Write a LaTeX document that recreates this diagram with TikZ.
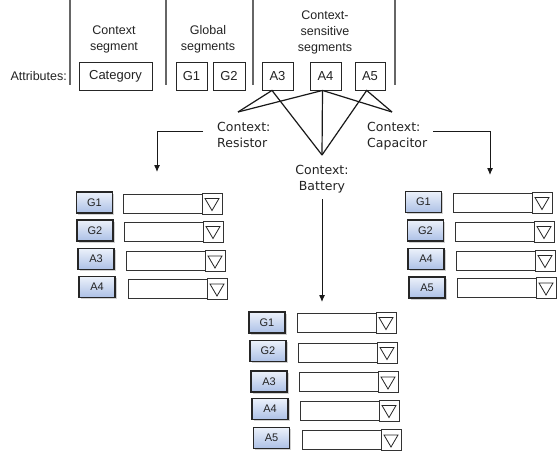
\documentclass[tikz,border=0pt]{standalone}
\usepackage{fontspec}
\setmainfont{Liberation Sans}
\newfontfamily\ctxfont{DejaVu Sans}
\usetikzlibrary{arrows.meta,shadows,calc}
\definecolor{lbltop}{RGB}{236,241,250}
\definecolor{lblbot}{RGB}{172,192,230}
\definecolor{inkc}{RGB}{34,34,34}
\newcommand\formrow[6]{%
  \node[lbl] (#1l) at (#3,#4) {#2};
  \node[fld, anchor=west] (#1f) at (#5,#6) {};
  \node[ddbtn, anchor=west] (#1d) at (#1f.east) {};
}
\begin{document}
\begin{tikzpicture}[x=1pt,y=-1pt,
  sepline/.style={draw=black!60, line width=1.2pt},
  attr/.style={draw=black!85, line width=0.9pt, minimum height=28pt, inner sep=0pt, font=\fontsize{13}{15}\selectfont, text=inkc},
  hdr/.style={align=center, font=\fontsize{12.5}{16}\selectfont, inner sep=0pt, text=inkc},
  ctx/.style={font=\ctxfont\fontsize{12.5}{16}\selectfont, inner sep=0pt, text=inkc},
  link/.style={line width=1.2pt, draw=black!90},
  arr/.style={line width=1pt, draw=black!90, -{Latex[length=7pt,width=6pt]}},
  lbl/.style={draw=black!85, line width=1.1pt, minimum width=36pt, minimum height=21pt, inner sep=0pt, outer sep=0pt,
    top color=lbltop, bottom color=lblbot,
    drop shadow={shadow xshift=1.5pt, shadow yshift=-1.5pt, fill=black, opacity=0.18},
    font=\fontsize{11}{12}\selectfont, text=inkc},
  fld/.style={draw=black!80, line width=1pt, fill=white, minimum width=79pt, minimum height=19pt, inner sep=0pt, outer sep=0pt},
  ddbtn/.style={draw=black!80, line width=1pt, fill=white, minimum width=20pt, minimum height=21pt, inner sep=0pt, outer sep=0pt,
    path picture={\draw[line width=0.8pt, black!85]
      ([shift={(-7pt,5pt)}]path picture bounding box.center) --
      ([shift={(7pt,5pt)}]path picture bounding box.center) --
      ([shift={(0pt,-7pt)}]path picture bounding box.center) -- cycle;}}
]
\useasboundingbox (0,0) rectangle (557,455);

% separators
\draw[sepline] (70,0) -- (70,85);
\draw[sepline] (166,0) -- (166,85);
\draw[sepline] (253,0) -- (253,85);
\draw[sepline] (395,0) -- (395,85);

% headers
\node[hdr] (hctx) at (114,39) {Context\\segment};
\node[hdr] (hglob) at (208,39) {Global\\segments};
\node[hdr] (hsens) at (325,32) {Context-\\sensitive\\segments};
\node[anchor=east, inner sep=0pt, font=\fontsize{12.5}{15}\selectfont, text=inkc] (attrlbl) at (67,76) {Attributes:};

% attribute boxes
\node[attr, minimum width=73pt] (tcat) at (115.5,76) {Category};
\node[attr, minimum width=31pt] (tg1) at (191.5,76) {G1};
\node[attr, minimum width=32pt] (tg2) at (229,76) {G2};
\node[attr, minimum width=31pt] (ta3) at (277.5,76) {A3};
\node[attr, minimum width=31pt] (ta4) at (325.5,76) {A4};
\node[attr, minimum width=30pt] (ta5) at (370,76) {A5};

% context labels
\node[ctx, align=left, anchor=north west] (res) at (217,122) {Context:\\Resistor};
\node[ctx, align=left, anchor=north west] (cap) at (367,122) {Context:\\Capacitor};
\node[ctx, align=center, anchor=north] (bat) at (322,165) {Context:\\Battery};

\coordinate (resapex) at (238,112);
\coordinate (batapex) at (322,155);
\coordinate (capapex) at (392,112);

\draw[link] (resapex) -- ([xshift=-5.5pt]ta3.south) -- (batapex);
\draw[link] (resapex) -- ([xshift=-3pt]ta4.south) -- (capapex);
\draw[link] ([xshift=-3pt]ta4.south) -- (batapex);
\draw[link] (batapex) -- ([xshift=-3.3pt]ta5.south) -- (capapex);

% arrows
\coordinate (resend) at (157,172);
\coordinate (capend) at (490,175);
\coordinate (batend) at (322,302);
\draw[arr] ([shift={(-14,9)}]res.north west) -| (resend);
\draw[arr] ([shift={(66,9)}]cap.north west) -| (capend);
\draw[arr] ([yshift=-6pt]bat.south) -- (batend);

% left form (Resistor)
\formrow{lg1}{G1}{94.5}{202.5}{123}{203.5}
\formrow{lg2}{G2}{95}{230.5}{124}{231.5}
\formrow{la3}{A3}{96}{259}{126}{261}
\formrow{la4}{A4}{97}{287}{128}{289}

% right form (Capacitor)
\formrow{rg1}{G1}{423.5}{202}{453}{202.5}
\formrow{rg2}{G2}{425.5}{230.5}{455}{231.5}
\formrow{ra4}{A4}{426}{259}{456}{260.5}
\formrow{ra5}{A5}{427}{287.5}{457}{288}

% bottom form (Battery)
\formrow{bg1}{G1}{267}{322.5}{297}{322.5}
\formrow{bg2}{G2}{268}{351}{298}{352.5}
\formrow{ba3}{A3}{269}{381.5}{299}{382}
\formrow{ba4}{A4}{270}{409}{300}{410.5}
\formrow{ba5}{A5}{271.5}{438}{302}{440}
\end{tikzpicture}
\end{document}
